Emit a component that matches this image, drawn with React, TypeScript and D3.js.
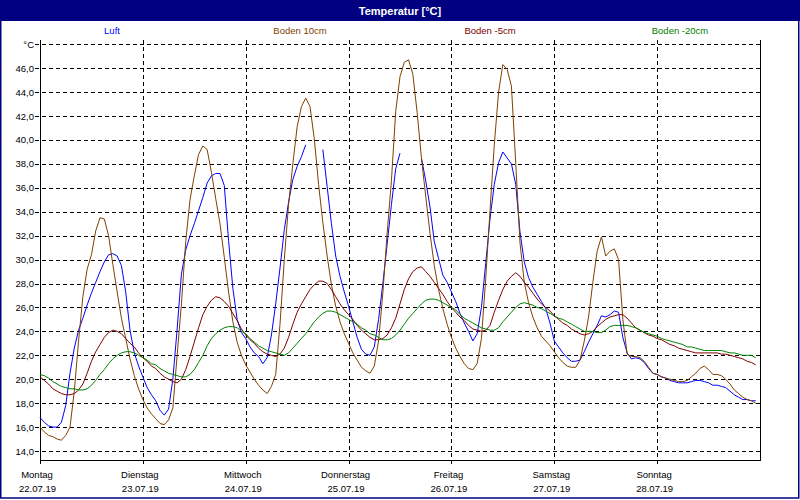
import React from 'react';
import * as d3 from 'd3';

// ---- data (hourly samples, Mon 22.07.19 00:00 .. Sun 28.07.19 23:00) ----
const seriesNames = ['Luft', 'Boden 10cm', 'Boden -5cm', 'Boden -20cm'];
const seriesColors = ['#0000ff', '#804000', '#800000', '#008000'];

const dayNames = ['Montag', 'Dienstag', 'Mittwoch', 'Donnerstag', 'Freitag', 'Samstag', 'Sonntag'];
const dayDates = ['22.07.19', '23.07.19', '24.07.19', '25.07.19', '26.07.19', '27.07.19', '28.07.19'];
const yTickValues = [14, 16, 18, 20, 22, 24, 26, 28, 30, 32, 34, 36, 38, 40, 42, 44, 46];
const yUnitLabel = '°C';
const yUnitValue = 48;

const luft: (number | null)[] = [
  16.8, 16.4, 16.1, 16.0, 16.0, 16.4, 17.8, 20.5, 22.6, 24.1, 25.1, 26.2,
  27.2, 28.1, 29.0, 29.8, 30.4, 30.5, 30.3, 29.5, 27.3, 24.1, 22.2, 21.1,
  20.2, 19.3, 18.7, 18.2, 17.4, 17.0, 17.5, 20.0, 24.2, 28.8, 30.8, 32.0,
  33.0, 34.1, 35.2, 36.4, 37.0, 37.2, 37.2, 36.2, 31.6, 27.6, 25.0, 23.9,
  23.4, 22.7, 22.2, 21.9, 21.3, 21.8, 23.7, 26.3, 29.3, 32.5, 34.8, 36.7,
  37.8, 38.6, 39.6, null, null, null, 39.2, 36.1, 33.0, 30.3, 28.6, 27.3,
  26.1, 24.8, 23.5, 22.5, 22.1, 22.0, 22.7, 25.0, 28.0, 31.3, 34.6, 37.6,
  38.9, null, null, null, null, 38.5, 36.6, 34.4, 31.5, 30.1, 28.7, 28.1,
  27.3, 26.5, 25.5, 24.7, 24.0, 23.2, 23.8, 26.0, 29.7, 33.4, 36.3, 38.1,
  39.0, 38.5, 38.0, 36.3, 32.3, 29.8, 28.5, 27.7, 27.1, 26.5, 25.9, 24.7,
  23.2, 22.7, 22.2, 21.8, 21.5, 21.5, 21.6, 22.3, 23.1, 23.8, 24.5, 25.3,
  25.2, 25.4, 25.7, 25.6, 23.5, 22.2, 21.7, 21.8, 21.7, 21.4, 20.9, 20.5,
  20.4, 20.2, 20.1, 19.9, 19.8, 19.7, 19.7, 19.7, 19.8, 19.9, 19.9, 19.8,
  19.7, 19.5, 19.5, 19.4, 19.3, 19.0, 18.7, 18.5, 18.3, 18.3, 18.2, 18.2,
];

const boden10: (number | null)[] = [
  16.0, 15.6, 15.3, 15.2, 15.0, 14.9, 15.3, 16.0, 19.0, 23.2, 26.9, 29.2,
  30.4, 32.4, 33.5, 33.4, 32.0, 29.6, 27.3, 25.1, 23.4, 21.7, 20.3, 19.2,
  18.3, 17.6, 17.1, 16.7, 16.3, 16.2, 16.6, 17.6, 22.0, 26.3, 31.5, 35.0,
  37.0, 38.8, 39.5, 39.2, 37.3, 35.1, 33.0, 30.2, 27.3, 24.8, 23.1, 22.0,
  21.2, 20.6, 20.0, 19.5, 19.1, 18.8, 19.4, 20.4, 24.6, 30.0, 34.6, 38.0,
  41.1, 42.8, 43.5, 42.8, 40.1, 36.3, 33.1, 30.3, 27.9, 26.1, 24.8, 23.8,
  23.0, 22.2, 21.6, 21.0, 20.7, 20.5, 21.1, 23.2, 27.2, 32.2, 36.6, 42.4,
  45.3, 46.5, 46.7, 45.5, 42.3, 38.5, 35.3, 32.2, 29.5, 27.5, 25.9, 24.6,
  23.5, 22.6, 21.9, 21.3, 20.9, 20.8, 21.3, 23.4, 28.4, 34.1, 39.6, 44.0,
  46.3, 45.9, 44.5, 38.1, 31.4, 28.1, 26.4, 25.2, 24.3, 23.6, 23.2, 22.8,
  22.3, 21.8, 21.4, 21.1, 21.0, 21.0, 21.6, 23.2, 25.2, 28.1, 30.7, 31.9,
  30.3, 30.7, 30.9, 30.0, 25.0, 22.1, 21.9, 21.9, 21.8, 21.5, 21.0, 20.5,
  20.4, 20.2, 20.1, 20.0, 19.9, 19.8, 19.8, 19.9, 20.2, 20.5, 20.9, 21.1,
  20.8, 20.4, 20.4, 20.3, 20.0, 19.6, 19.1, 18.8, 18.5, 18.3, 18.2, 18.0,
];

const bodenMinus5: (number | null)[] = [
  20.2, 19.9, 19.6, 19.2, 19.0, 18.8, 18.7, 18.7, 18.8, 19.1, 19.6, 20.5,
  21.5, 22.3, 22.9, 23.5, 23.9, 24.1, 24.0, 23.8, 23.4, 23.0, 22.7, 22.2,
  21.8, 21.5, 21.1, 20.9, 20.5, 20.2, 20.0, 19.8, 19.7, 20.0, 20.8, 21.9,
  23.1, 24.3, 25.4, 26.1, 26.6, 26.9, 26.8, 26.5, 26.1, 25.5, 24.9, 24.2,
  23.7, 23.3, 23.0, 22.6, 22.3, 22.1, 22.0, 21.9, 22.1, 22.6, 23.5, 24.6,
  25.6, 26.3, 26.9, 27.5, 27.9, 28.2, 28.2, 28.0, 27.5, 26.9, 26.3, 25.8,
  25.4, 25.0, 24.5, 24.1, 23.8, 23.5, 23.3, 23.3, 23.4, 23.7, 24.3, 25.1,
  26.3, 27.5, 28.4, 29.0, 29.3, 29.4, 29.0, 28.6, 28.1, 27.6, 27.1, 26.5,
  26.0, 25.6, 25.2, 24.9, 24.5, 24.2, 24.1, 24.0, 24.1, 24.5, 25.6, 26.6,
  27.5, 28.2, 28.6, 28.9, 28.6, 28.1, 27.7, 27.2, 26.7, 26.3, 26.0, 25.7,
  25.3, 25.0, 24.7, 24.5, 24.2, 24.0, 23.8, 23.7, 23.8, 24.0, 24.4, 24.7,
  25.0, 25.2, 25.3, 25.4, 25.4, 25.1, 24.7, 24.3, 24.1, 23.9, 23.7, 23.6,
  23.4, 23.3, 23.1, 22.9, 22.8, 22.6, 22.5, 22.4, 22.3, 22.2, 22.2, 22.2,
  22.2, 22.2, 22.2, 22.1, 22.1, 22.0, 21.9, 21.8, 21.7, 21.5, 21.4, 21.2,
];

const bodenMinus20: (number | null)[] = [
  20.4, 20.3, 20.1, 19.8, 19.6, 19.4, 19.3, 19.2, 19.2, 19.1, 19.1, 19.2,
  19.5, 19.9, 20.4, 20.8, 21.3, 21.7, 22.0, 22.2, 22.3, 22.3, 22.2, 22.0,
  21.8, 21.6, 21.3, 21.2, 20.9, 20.7, 20.5, 20.4, 20.3, 20.2, 20.2, 20.4,
  20.8, 21.4, 22.0, 22.8, 23.4, 23.8, 24.1, 24.3, 24.4, 24.4, 24.3, 24.0,
  23.8, 23.4, 23.1, 22.8, 22.6, 22.4, 22.3, 22.2, 22.1, 22.0, 22.2, 22.6,
  23.0, 23.4, 23.8, 24.3, 24.8, 25.2, 25.5, 25.7, 25.7, 25.6, 25.4, 25.2,
  25.0, 24.8, 24.6, 24.3, 24.1, 23.8, 23.7, 23.5, 23.3, 23.3, 23.4, 23.7,
  24.1, 24.6, 25.1, 25.5, 25.9, 26.3, 26.6, 26.7, 26.7, 26.6, 26.4, 26.2,
  26.0, 25.8, 25.4, 25.1, 24.9, 24.7, 24.5, 24.3, 24.2, 24.1, 24.1, 24.3,
  24.8, 25.2, 25.6, 26.0, 26.3, 26.4, 26.3, 26.2, 26.0, 25.9, 25.7, 25.5,
  25.3, 25.1, 25.0, 24.8, 24.6, 24.4, 24.2, 24.0, 24.0, 24.0, 23.9, 23.9,
  24.1, 24.4, 24.5, 24.5, 24.5, 24.5, 24.4, 24.3, 24.1, 23.9, 23.8, 23.7,
  23.6, 23.4, 23.3, 23.2, 23.1, 23.0, 22.9, 22.7, 22.7, 22.6, 22.5, 22.4,
  22.4, 22.4, 22.4, 22.4, 22.3, 22.2, 22.2, 22.1, 22.0, 22.0, 22.0, 21.8,
];

const seriesValues = [luft, boden10, bodenMinus5, bodenMinus20];

// ---- layout ----
const W = 800;
const H = 500;
const plotLeft = 40;
const plotRight = 760;
const plotTop = 40;
const plotBottom = 460;
const FONT = "'Liberation Sans', Arial, sans-serif";

export default function App() {
  const hoursPerDay = 24;
  const nDays = dayNames.length;
  const x = d3.scaleLinear().domain([0, nDays * hoursPerDay]).range([plotLeft, plotRight]);
  const y = d3.scaleLinear().domain([14, 48]).range([451, 44.3]);

  const line = d3
    .line<number | null>()
    .defined((d) => d !== null)
    .x((_, i) => x(i))
    .y((d) => y(d as number));

  const fmt = (v: number) => v.toFixed(1).replace('.', ',');
  const dash = '4,3';
  const gridValues = [...yTickValues, yUnitValue];
  const dayTicks = d3.range(1, nDays).map((d) => d * hoursPerDay);
  const legendX = [112, 300, 490, 680];

  return (
    <svg
      width={W}
      height={H}
      viewBox={`0 0 ${W} ${H}`}
      style={{ position: 'absolute', left: 0, top: 0, display: 'block' }}
      fontFamily={FONT}
    >
      <rect x={0} y={0} width={W} height={H} fill="#ffffff" />
      {/* title bar */}
      <rect x={0} y={0} width={W} height={21} fill="#000080" />
      <text x={W / 2} y={14.5} textAnchor="middle" fill="#ffffff" fontWeight="bold" fontSize={11}>
        Temperatur [°C]
      </text>
      {/* outer frame */}
      <rect x={0.75} y={0.5} width={W - 2} height={H - 2.5} fill="none" stroke="#000080" strokeWidth={1.5} />

      {/* legend */}
      {seriesNames.map((n, i) => (
        <text key={n} x={legendX[i]} y={34} textAnchor="middle" fontSize={9.5} fill={seriesColors[i]}>
          {n}
        </text>
      ))}

      {/* gridlines */}
      <g shapeRendering="crispEdges">
        {gridValues.map((v) => (
          <line
            key={'h' + v}
            x1={35}
            x2={plotRight}
            y1={Math.round(y(v)) + 0.5}
            y2={Math.round(y(v)) + 0.5}
            stroke="#000"
            strokeWidth={1}
            strokeDasharray={dash}
          />
        ))}
        {dayTicks.map((h) => (
          <line
            key={'v' + h}
            x1={Math.round(x(h)) + 0.5}
            x2={Math.round(x(h)) + 0.5}
            y1={plotTop}
            y2={plotBottom + 4}
            stroke="#000"
            strokeWidth={1}
            strokeDasharray={dash}
          />
        ))}
        {/* axes / frame */}
        <line x1={plotLeft + 0.5} x2={plotLeft + 0.5} y1={plotTop} y2={plotBottom + 4} stroke="#000" />
        <line x1={plotLeft} x2={plotRight + 1} y1={plotBottom + 0.5} y2={plotBottom + 0.5} stroke="#000" />
        <line x1={plotRight + 0.5} x2={plotRight + 0.5} y1={plotTop} y2={plotBottom + 1} stroke="#000" />
      </g>

      {/* y labels */}
      {yTickValues.map((v) => (
        <text key={'yl' + v} x={34} y={y(v) + 3.5} textAnchor="end" fontSize={9.5} fill="#000">
          {fmt(v)}
        </text>
      ))}
      <text x={34} y={y(yUnitValue) + 3.5} textAnchor="end" fontSize={9.5} fill="#000">
        {yUnitLabel}
      </text>

      {/* x labels */}
      {dayNames.map((d, i) => (
        <g key={d}>
          <text x={x(i * hoursPerDay) - 3} y={478} textAnchor="middle" fontSize={9.5} fill="#000">
            {d}
          </text>
          <text x={x(i * hoursPerDay) - 2.5} y={492} textAnchor="middle" fontSize={9.5} fill="#000">
            {dayDates[i]}
          </text>
        </g>
      ))}

      {/* series */}
      {seriesValues.map((vals, i) => (
        <path
          key={seriesNames[i]}
          d={line(vals) || ''}
          fill="none"
          stroke={seriesColors[i]}
          strokeWidth={1}
          strokeLinejoin="round"
        />
      ))}
    </svg>
  );
}
